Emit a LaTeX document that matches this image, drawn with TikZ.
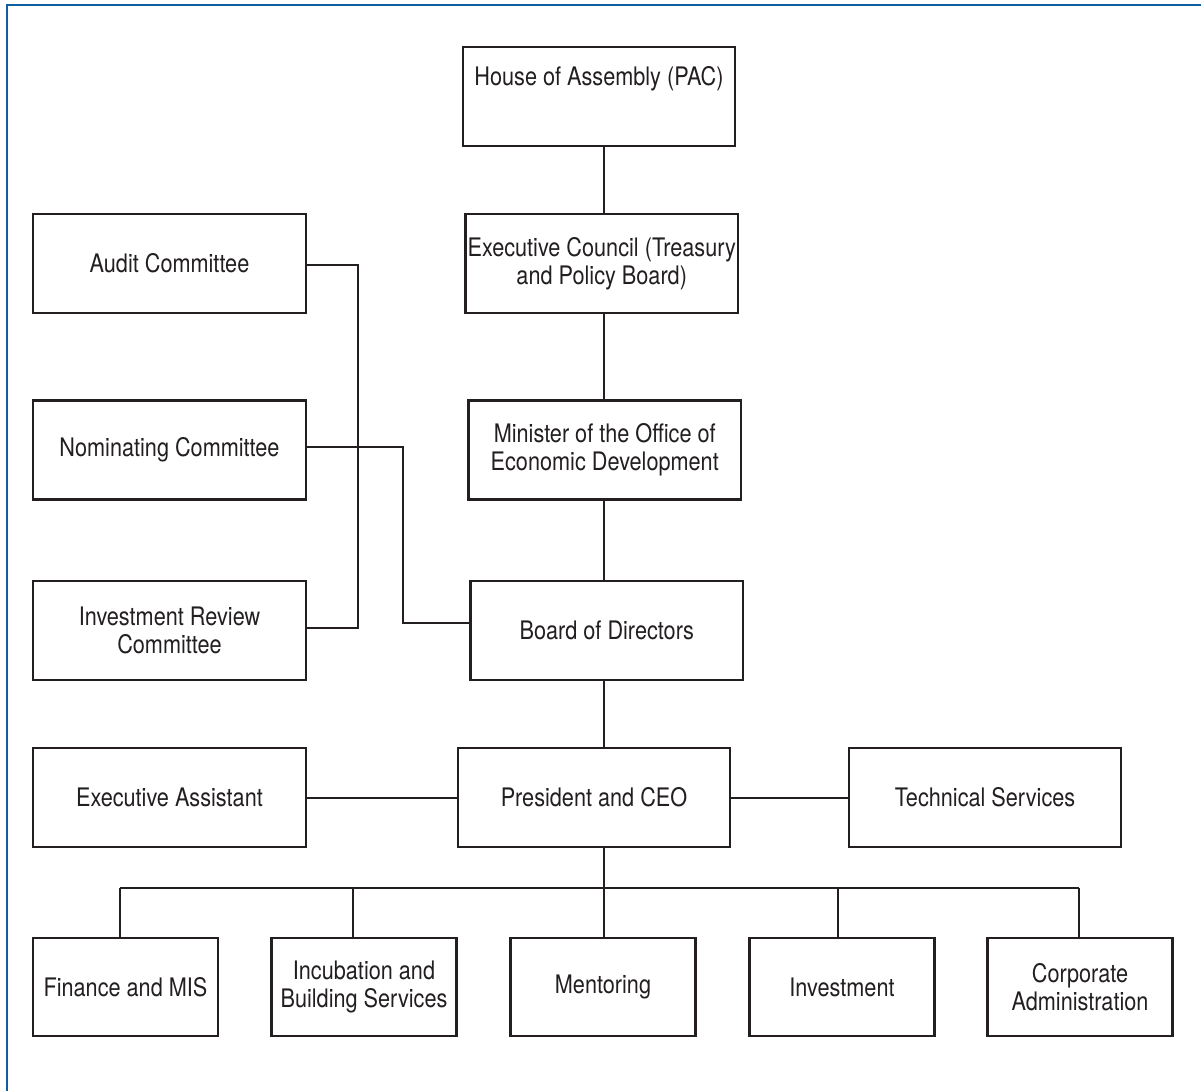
\documentclass[tikz,border=0pt]{standalone}
\usepackage{fontspec}
\setmainfont{TeX Gyre Heros}[FakeStretch=0.85]
\definecolor{linec}{HTML}{231F20}
\definecolor{framec}{HTML}{0F5FA0}
\begin{document}
\begin{tikzpicture}[x=1pt,y=-1pt,
  box/.style={draw=linec, line width=2.4pt, fill=white, align=center, inner sep=0pt,
    font=\fontsize{25.5}{28}\selectfont, text=linec},
  wbox/.style={box, minimum width=272.5pt, minimum height=99pt},
  sbox/.style={box, minimum width=185pt, minimum height=98pt},
  conn/.style={draw=linec, line width=2pt}]
\useasboundingbox (0,0) rectangle (1201,1091);
\draw[framec, line width=2.6pt] (7,1091) -- (7,5) -- (1201,5);

% central column
\node[wbox] (house) at (599,96.5) {};
\node[font=\fontsize{25.5}{28}\selectfont, text=linec] (housetxt) at (599,79) {House of Assembly (PAC)};
\node[wbox] (exec) at (601.75,263.5) {Executive Council (Treasury\\and Policy Board)};
\node[wbox] (minister) at (604.75,450) {Minister of the Office of\\Economic Development};
\node[wbox] (board) at (606.75,630.5) {Board of Directors};
\node[wbox] (president) at (594,797.5) {President and CEO};

% left committees
\node[wbox] (audit) at (169.5,263.5) {Audit Committee};
\node[wbox] (nominating) at (169.5,450) {Nominating Committee};
\node[wbox] (invreview) at (169.5,630.5) {Investment Review\\Committee};
\node[wbox] (execasst) at (169.5,797.5) {Executive Assistant};
\node[wbox] (technical) at (985,797.5) {Technical Services};

% bottom row
\node[sbox] (finance) at (125.5,987) {Finance and MIS};
\node[sbox] (incub) at (364,987) {Incubation and\\Building Services};
\node[sbox] (mentoring) at (603,987) {Mentoring};
\node[sbox] (investment) at (842,987) {Investment};
\node[sbox] (corporate) at (1080,987) {Corporate\\Administration};

% trunk
\coordinate (t) at (604,0);
\draw[conn] (house.south -| t) -- (exec.north -| t);
\draw[conn] (exec.south -| t) -- (minister.north -| t);
\draw[conn] (minister.south -| t) -- (board.north -| t);
\draw[conn] (board.south -| t) -- (president.north -| t);

% committees
\coordinate (aj) at (358,265);
\coordinate (ij) at (358,628);
\draw[conn] (audit.east |- aj) -- (aj) -- (ij) -- (invreview.east |- ij);
\coordinate (nj) at (403,447);
\coordinate (bj) at (403,623);
\draw[conn] (nominating.east |- nj) -- (nj) -- (bj) -- (board.west |- bj);

% president sides
\draw[conn] (execasst.east) -- (president.west);
\draw[conn] (president.east) -- (technical.west);

% bus
\coordinate (d1) at (120,888);
\coordinate (d2) at (353,888);
\coordinate (d3) at (604,888);
\coordinate (d4) at (838,888);
\coordinate (d5) at (1079,888);
\draw[conn] (president.south -| t) -- (d3);
\draw[conn] (d1) -- (d5);
\draw[conn] (d1) -- (finance.north -| d1);
\draw[conn] (d2) -- (incub.north -| d2);
\draw[conn] (d3) -- (mentoring.north -| d3);
\draw[conn] (d4) -- (investment.north -| d4);
\draw[conn] (d5) -- (corporate.north -| d5);
\end{tikzpicture}
\end{document}
